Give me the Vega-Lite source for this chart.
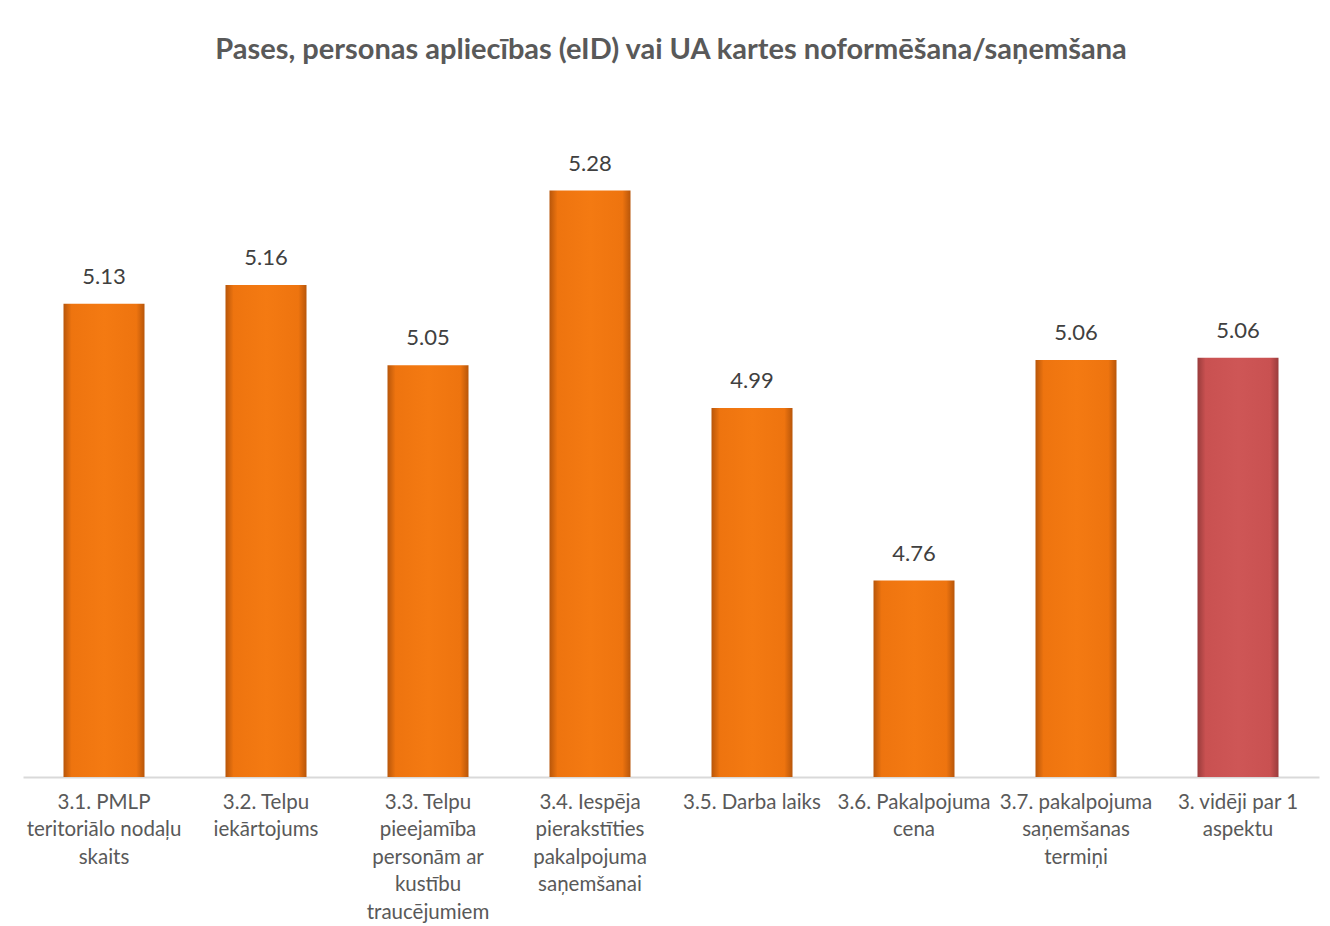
{
  "$schema": "https://vega.github.io/schema/vega-lite/v6.json",
  "autosize": {"type": "none"},
  "width": 1296,
  "height": 675,
  "padding": {"left": 23, "top": 102, "right": 11, "bottom": 149},
  "background": "white",
  "title": {
    "text": "Pases, personas apliecības (eID) vai UA kartes noformēšana/saņemšana",
    "font": "Lato",
    "fontSize": 29,
    "fontWeight": "bold",
    "color": "#595959",
    "anchor": "middle",
    "offset": 37
  },
  "config": {
    "view": {"stroke": null},
    "font": "Lato"
  },
  "data": {
    "values": [
      {"aspekts": "3.1. PMLP\nteritoriālo nodaļu\nskaits", "vertiba": 5.131, "grupa": "a"},
      {"aspekts": "3.2. Telpu\niekārtojums", "vertiba": 5.156, "grupa": "a"},
      {"aspekts": "3.3. Telpu\npieejamība\npersonām ar\nkustību\ntraucējumiem", "vertiba": 5.049, "grupa": "a"},
      {"aspekts": "3.4. Iespēja\npierakstīties\npakalpojuma\nsaņemšanai", "vertiba": 5.282, "grupa": "a"},
      {"aspekts": "3.5. Darba laiks", "vertiba": 4.992, "grupa": "a"},
      {"aspekts": "3.6. Pakalpojuma\ncena", "vertiba": 4.762, "grupa": "a"},
      {"aspekts": "3.7. pakalpojuma\nsaņemšanas\ntermiņi", "vertiba": 5.056, "grupa": "a"},
      {"aspekts": "3. vidēji par 1\naspektu", "vertiba": 5.059, "grupa": "b"}
    ]
  },
  "encoding": {
    "x": {
      "field": "aspekts",
      "type": "nominal",
      "sort": null,
      "scale": {"paddingInner": 0.5, "paddingOuter": 0.25},
      "axis": {
        "title": null,
        "labelAngle": 0,
        "labelExpr": "split(datum.label, '\\n')",
        "labelFont": "Lato",
        "labelFontSize": 20.5,
        "labelColor": "#595959",
        "labelLineHeight": 27.5,
        "labelPadding": 15,
        "labelLimit": 200,
        "labelOverlap": false,
        "labelBound": false,
        "ticks": false,
        "domainColor": "#D9D9D9",
        "domainWidth": 2
      }
    },
    "y": {
      "field": "vertiba",
      "type": "quantitative",
      "scale": {"domain": [4.5, 5.4], "zero": false, "nice": false},
      "axis": null
    }
  },
  "layer": [
    {
      "transform": [{"filter": "datum.grupa === 'a'"}],
      "mark": {
        "type": "bar",
        "color": {
          "gradient": "linear",
          "x1": 0, "x2": 1, "y1": 0, "y2": 0,
          "stops": [
            {"offset": 0, "color": "#B8560A"},
            {"offset": 0.1, "color": "#EE740F"},
            {"offset": 0.5, "color": "#F47A12"},
            {"offset": 0.9, "color": "#EE740F"},
            {"offset": 1, "color": "#B8560A"}
          ]
        }
      },
      "encoding": {"y2": {"datum": 4.5}}
    },
    {
      "transform": [{"filter": "datum.grupa === 'b'"}],
      "mark": {
        "type": "bar",
        "color": {
          "gradient": "linear",
          "x1": 0, "x2": 1, "y1": 0, "y2": 0,
          "stops": [
            {"offset": 0, "color": "#9A3C3C"},
            {"offset": 0.1, "color": "#C95151"},
            {"offset": 0.5, "color": "#CE5656"},
            {"offset": 0.9, "color": "#C95151"},
            {"offset": 1, "color": "#9A3C3C"}
          ]
        }
      },
      "encoding": {"y2": {"datum": 4.5}}
    },
    {
      "mark": {
        "type": "text",
        "baseline": "bottom",
        "dy": -15,
        "font": "Lato",
        "fontSize": 22,
        "color": "#404040"
      },
      "encoding": {
        "text": {"field": "vertiba", "type": "quantitative", "format": ".2f"}
      }
    }
  ]
}
